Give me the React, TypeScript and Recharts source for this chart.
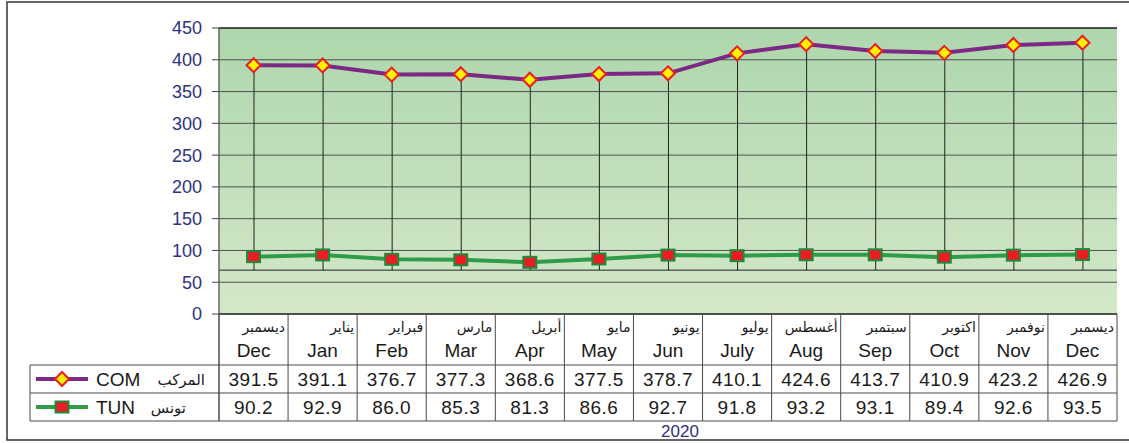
import React from 'react';
import { ComposedChart, Line, Bar, XAxis, YAxis, CartesianGrid, ReferenceLine } from 'recharts';

const monthKeys = ['d19', 'jan', 'feb', 'mar', 'apr', 'may', 'jun', 'jul', 'aug', 'sep', 'oct', 'nov', 'd20'];
const monthsEn = ['Dec', 'Jan', 'Feb', 'Mar', 'Apr', 'May', 'Jun', 'July', 'Aug', 'Sep', 'Oct', 'Nov', 'Dec'];
const monthsAr = ['ديسمبر', 'يناير', 'فبراير', 'مارس', 'أبريل', 'مايو', 'يونيو', 'يوليو', 'أغسطس', 'سبتمبر', 'اكتوبر', 'نوفمبر', 'ديسمبر'];
const comValues = [391.5, 391.1, 376.7, 377.3, 368.6, 377.5, 378.7, 410.1, 424.6, 413.7, 410.9, 423.2, 426.9];
const tunValues = [90.2, 92.9, 86.0, 85.3, 81.3, 86.6, 92.7, 91.8, 93.2, 93.1, 89.4, 92.6, 93.5];
const yTicks = [0, 50, 100, 150, 200, 250, 300, 350, 400, 450];
const dropBase = 69;
const yearLabel = '2020';

const data = monthKeys.map((key, i) => ({
  key,
  com: comValues[i],
  tun: tunValues[i],
}));

const W = 1129;
const H = 443;
const PLOT_LEFT = 219;
const PLOT_RIGHT = 1117;
const PLOT_TOP = 28;
const COL_W = (PLOT_RIGHT - PLOT_LEFT) / monthKeys.length;
const ROW1 = 365;
const ROW2 = 393;
const ROW3 = 421;

const NAVY = '#2e3184';
const PURPLE = '#7a2a83';
const GREEN = '#2e9c48';
const RED = '#ed1c24';
const YELLOW = '#fff200';
const FONT = "Arial, 'Liberation Sans', 'DejaVu Sans', sans-serif";
const LINE = '#4a4a4a';

const Diamond = ({ cx, cy, r = 7 }: any) => (
  <path
    d={`M${cx},${cy - r} L${cx + r},${cy} L${cx},${cy + r} L${cx - r},${cy} Z`}
    fill={YELLOW}
    stroke={RED}
    strokeWidth={2}
  />
);

const Square = ({ cx, cy }: any) => (
  <rect x={cx - 6.5} y={cy - 5.5} width={13} height={11} fill={RED} stroke="#1d8a3c" strokeWidth={2} />
);

const DropLine = (props: any) => {
  const { x, y, width, height } = props;
  const cx = x + width / 2;
  return <line x1={cx} x2={cx} y1={y} y2={y + height} stroke="#222" strokeWidth={1} />;
};

const TableTick = (props: any) => {
  const { x, y, payload } = props;
  const i = payload.index;
  const left = x - COL_W / 2;
  const right = x + COL_W / 2;
  const txt = { fontFamily: FONT, fill: '#1a1a1a' };
  return (
    <g>
      {i === 0 && <line x1={left} x2={left} y1={y} y2={ROW3} stroke={LINE} />}
      <line x1={right} x2={right} y1={y} y2={ROW3} stroke={LINE} />
      <line x1={left} x2={right} y1={ROW1} y2={ROW1} stroke={LINE} />
      <line x1={left} x2={right} y1={ROW2} y2={ROW2} stroke={LINE} />
      <line x1={left} x2={right} y1={ROW3} y2={ROW3} stroke={LINE} />
      <text x={right - 3} y={y + 18} textAnchor="end" fontSize={14} style={txt}>
        {monthsAr[i]}
      </text>
      <text x={x} y={y + 43} textAnchor="middle" fontSize={19} style={txt}>
        {monthsEn[i]}
      </text>
      <text x={x} y={ROW1 + 21} textAnchor="middle" fontSize={19} letterSpacing={0.5} style={txt}>
        {comValues[i].toFixed(1)}
      </text>
      <text x={x} y={ROW2 + 21} textAnchor="middle" fontSize={19} letterSpacing={0.5} style={txt}>
        {tunValues[i].toFixed(1)}
      </text>
    </g>
  );
};

const App: React.FC = () => {
  return (
    <div style={{ position: 'absolute', left: 0, top: 0, width: W, height: H, background: '#fff' }}>
      <ComposedChart
        width={W}
        height={H}
        data={data}
        margin={{ top: PLOT_TOP, right: W - PLOT_RIGHT, left: 0, bottom: 0 }}
      >
        <defs>
          <linearGradient id="plotBg" x1="0" y1="0" x2="0" y2="1">
            <stop offset="0%" stopColor="#aed6ad" />
            <stop offset="100%" stopColor="#d4e8c9" />
          </linearGradient>
        </defs>
        <CartesianGrid
          vertical={false}
          stroke="#3a3a3a"
          strokeOpacity={0.85}
          fill="url(#plotBg)"
          fillOpacity={1}
        />
        <XAxis
          dataKey="key"
          height={H - 314}
          interval={0}
          tickLine={false}
          tickSize={0}
          tickMargin={0}
          axisLine={{ stroke: '#333', strokeWidth: 1.5 }}
          tick={<TableTick />}
        />
        <YAxis
          domain={[0, 450]}
          ticks={yTicks}
          width={PLOT_LEFT}
          tickSize={7}
          tickMargin={10}
          axisLine={{ stroke: '#666', strokeWidth: 1.5 }}
          tickLine={{ stroke: '#444' }}
          tick={{ fill: NAVY, fontSize: 18, fontFamily: FONT }}
        />
        <ReferenceLine y={dropBase} stroke="#222" strokeWidth={1} />
        <Bar
          dataKey={(d: any) => [dropBase, d.com]}
          barSize={2}
          shape={<DropLine />}
          isAnimationActive={false}
        />
        <Line
          dataKey="tun"
          stroke={GREEN}
          strokeWidth={4}
          dot={(p: any) => <Square key={`t${p.index}`} cx={p.cx} cy={p.cy} />}
          activeDot={false}
          isAnimationActive={false}
        />
        <Line
          dataKey="com"
          stroke={PURPLE}
          strokeWidth={4}
          dot={(p: any) => <Diamond key={`c${p.index}`} cx={p.cx} cy={p.cy} />}
          activeDot={false}
          isAnimationActive={false}
        />
      </ComposedChart>
      <svg
        width={W}
        height={H}
        style={{ position: 'absolute', left: 0, top: 0, pointerEvents: 'none' }}
      >
        <rect x={7} y={2} width={W + 10} height={438} fill="none" stroke="#333" strokeWidth={1.5} />
        <line x1={PLOT_LEFT} x2={PLOT_RIGHT} y1={PLOT_TOP} y2={PLOT_TOP} stroke="#333" strokeWidth={1.5} />
        <line x1={30} x2={PLOT_LEFT} y1={ROW1} y2={ROW1} stroke={LINE} />
        <line x1={30} x2={PLOT_LEFT} y1={ROW2} y2={ROW2} stroke={LINE} />
        <line x1={30} x2={PLOT_LEFT} y1={ROW3} y2={ROW3} stroke={LINE} />
        <line x1={30} x2={30} y1={ROW1} y2={ROW3} stroke={LINE} />
        <line x1={PLOT_LEFT} x2={PLOT_LEFT} y1={314} y2={ROW3} stroke={LINE} />
        {/* legend rows */}
        <line x1={36} x2={88} y1={ROW1 + 14} y2={ROW1 + 14} stroke={PURPLE} strokeWidth={4} />
        <Diamond cx={62} cy={ROW1 + 14} r={7} />
        <text x={96} y={ROW1 + 21} fontSize={19} fontFamily={FONT} fill="#1a1a1a">COM</text>
        <text x={205} y={ROW1 + 20} fontSize={15} fontFamily={FONT} fill="#1a1a1a" textAnchor="end">المركب</text>
        <line x1={36} x2={88} y1={ROW2 + 14} y2={ROW2 + 14} stroke={GREEN} strokeWidth={4} />
        <Square cx={62} cy={ROW2 + 14} />
        <text x={96} y={ROW2 + 21} fontSize={19} fontFamily={FONT} fill="#1a1a1a">TUN</text>
        <text x={186} y={ROW2 + 20} fontSize={15} fontFamily={FONT} fill="#1a1a1a" textAnchor="end">تونس</text>
        <text x={680} y={437} fontSize={17} fontFamily={FONT} fill={NAVY} textAnchor="middle">{yearLabel}</text>
      </svg>
    </div>
  );
};

export default App;
